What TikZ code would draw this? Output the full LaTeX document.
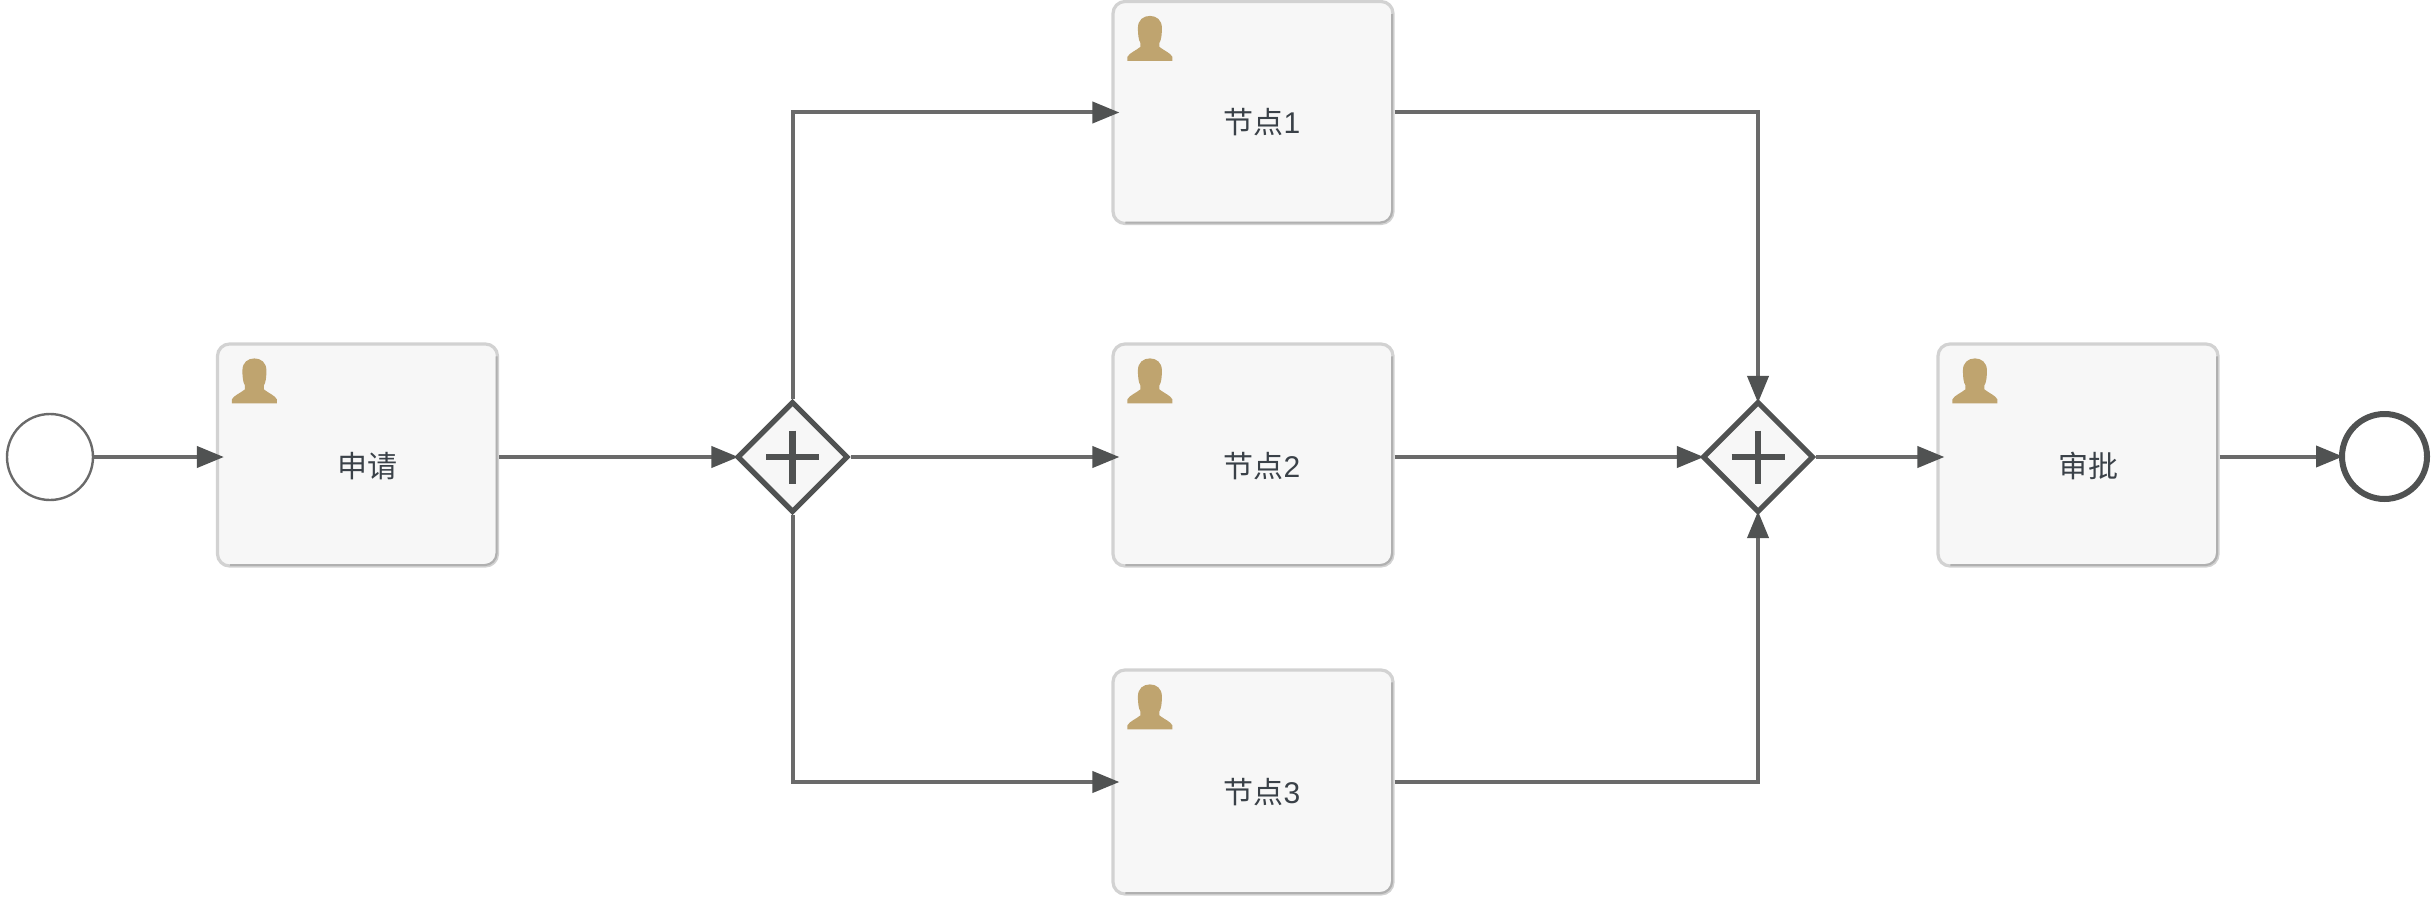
\documentclass[tikz,border=0pt]{standalone}
\usepackage{fontspec}
\newfontfamily\cjk{Noto Sans CJK SC}
\newfontfamily\lat{Liberation Sans}
\usetikzlibrary{arrows.meta,shapes.geometric,calc}
\definecolor{flowcol}{HTML}{6A6A6A}
\definecolor{tipcol}{HTML}{505252}
\definecolor{taskfill}{HTML}{F7F7F7}
\definecolor{taskline}{HTML}{D2D2D2}
\definecolor{taskedge}{HTML}{B0B0B0}
\definecolor{usercol}{HTML}{BFA46F}
\definecolor{txtcol}{HTML}{3A4148}
\tikzset{
  x=0.5pt,y=-0.5pt,
  flow/.style={draw=flowcol,line width=2pt,shorten >=-2pt,
    -{Triangle[length=13.5pt,width=10.5pt,color=tipcol]}},
  intotask/.style={shorten >=-4pt},
  taskbox/.style={draw=taskline,fill=taskfill,line width=1.6pt,rounded corners=6pt,
    minimum width=140pt,minimum height=111pt,inner sep=0pt},
  tasklabel/.style={font=\cjk\fontsize{15pt}{17pt}\selectfont,text=txtcol,inner sep=0pt},
  startev/.style={circle,draw=flowcol,line width=1.2pt,fill=white,minimum size=43pt,inner sep=0pt},
  endev/.style={circle,draw=tipcol,line width=3pt,fill=white,minimum size=42.5pt,inner sep=0pt},
  gate/.style={diamond,aspect=1,draw=tipcol,line width=2.6pt,fill=taskfill,minimum size=55.5pt,inner sep=0pt},
  gwplus/.pic={
    \draw[tipcol,line width=3.3pt] (-26.5,0) -- (26.5,0) (0,-26.5) -- (0,26.5);
  },
  usericon/.pic={
    \fill[usercol] (0,45) -- (0,41)
      .. controls (2,37) and (8,35) .. (13,31)
      -- (13,27)
      .. controls (11,24) and (10.5,18) .. (10.5,12)
      .. controls (10.5,4) and (16,0) .. (22.5,0)
      .. controls (29,0) and (34.5,4) .. (34.5,12)
      .. controls (34.5,18) and (34,24) .. (32,27)
      -- (32,31)
      .. controls (37,35) and (43,37) .. (45,41)
      -- (45,45) -- cycle;
  },
  taskrim/.style={draw=taskedge,line width=1.1pt,rounded corners=6pt},
}
\begin{document}
\begin{tikzpicture}
\useasboundingbox (0,0) rectangle (2434,904);
\node[startev] (st) at (50,457) {};
\node[taskbox] (a1) at (357.5,455) {};
\node[taskbox] (n1) at (1253,112.5) {};
\node[taskbox] (n2) at (1253,455) {};
\node[taskbox,minimum height=112pt] (n3) at (1253,782) {};
\node[taskbox] (a2) at (2078,455) {};
\node[gate] (g1) at (792.5,457) {};
\node[gate] (g2) at (1758,457) {};
\node[endev] (en) at (2384.5,456.5) {};
\node[tasklabel] (la1) at (367,466) {申请};
\node[tasklabel] (ln1) at (1262,122) {节点{\lat 1}};
\node[tasklabel] (ln2) at (1262,466) {节点{\lat 2}};
\node[tasklabel] (ln3) at (1262,792) {节点{\lat 3}};
\node[tasklabel] (la2) at (2088,466) {审批};
\foreach \t in {a1,n1,n2,n3,a2}{
  \draw[taskrim] ($(\t.north east)+(-2.5,14)$) -- ($(\t.south east)+(-2.5,-2.5)$) -- ($(\t.south west)+(14,-2.5)$);
  \pic at ($(\t.north west)+(16,16)$) {usericon};
}
\pic at (g1) {gwplus};
\pic at (g2) {gwplus};
\draw[flow,intotask] (st.east) -- (st.east -| a1.west);
\draw[flow] (g1.west -| a1.east) -- (g1.west);
\draw[flow,intotask] (g1.north) |- (n1.west);
\draw[flow,intotask] (g1.east) -- (g1.east -| n2.west);
\draw[flow,intotask] (g1.south) |- (n3.west);
\draw[flow] (n1.east) -| (g2.north);
\draw[flow] (g2.west -| n2.east) -- (g2.west);
\draw[flow] (n3.east) -| (g2.south);
\draw[flow,intotask] (g2.east) -- (g2.east -| a2.west);
\draw[flow] (en.west -| a2.east) -- (en.west);
\end{tikzpicture}
\end{document}
